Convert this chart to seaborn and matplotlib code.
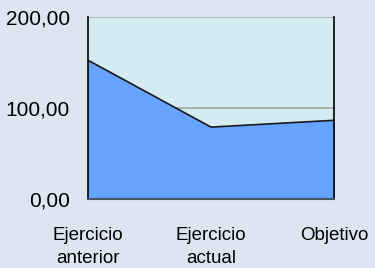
import matplotlib
matplotlib.use("Agg")
import matplotlib.pyplot as plt
import seaborn as sns
import pandas as pd
import numpy as np

categories = ["Ejercicio\nanterior", "Ejercicio\nactual", "Objetivo"]
values = [152.5, 79.0, 86.5]
yticks = [0, 100, 200]
ytick_labels = ["0,00", "100,00", "200,00"]

sns.set_style("white")
plt.rcParams['font.family'] = ['Liberation Sans', 'DejaVu Sans']

df = pd.DataFrame({"x": np.arange(len(categories)), "y": values})

fig = plt.figure(figsize=(3.75, 2.68), dpi=100, facecolor="#DCE6F1")
ax = fig.add_axes([88/375, 1-199/268, (334-88)/375, (199-17)/268])
ax.set_facecolor("#D4EBF1")

ax.fill_between(df["x"], 0, df["y"], color="#66A3FF", zorder=2)
sns.lineplot(data=df, x="x", y="y", ax=ax, color="#1A1A1A", linewidth=1.2, zorder=3)

ax.axhline(100, color="#A6A6A6", linewidth=1.2, zorder=1)
ax.axhline(200, color="#A6A6A6", linewidth=1.2, zorder=1)

ax.set_xlim(0, len(categories)-1)
ax.set_ylim(0, 200)
ax.set_yticks(yticks)
ax.set_yticklabels(ytick_labels, fontsize=15)
ax.set_xticks(df["x"])
ax.set_xticklabels(categories, fontsize=13.5, linespacing=1.45, va="top")
ax.set_xlabel("")
ax.set_ylabel("")

for s in ["left", "right"]:
    ax.spines[s].set_color("black")
    ax.spines[s].set_linewidth(1.2)
ax.spines["top"].set_visible(False)
ax.spines["bottom"].set_color("#44546A")
ax.spines["bottom"].set_linewidth(1.5)
ax.spines["bottom"].set_zorder(4)

ax.tick_params(axis="x", length=4, width=1, color="black", direction="out", pad=16, labelcolor="black")
ax.tick_params(axis="y", length=6, width=1, color="black", direction="out", pad=7, labelcolor="black")

fig.savefig("out.png", dpi=100, facecolor=fig.get_facecolor())
